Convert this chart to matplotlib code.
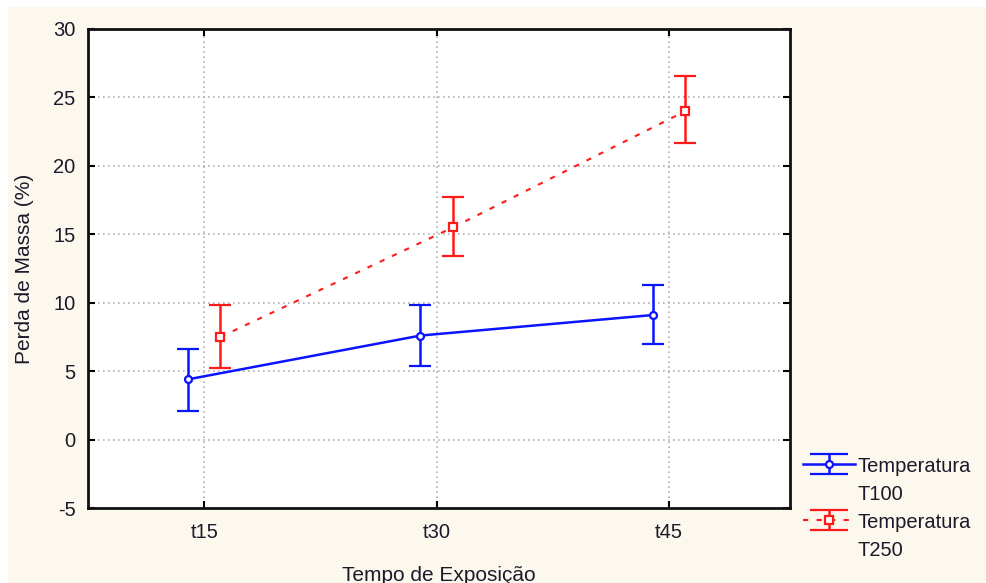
import matplotlib
matplotlib.use("Agg")
import matplotlib.pyplot as plt
import numpy as np
from matplotlib.patches import Rectangle

categories = ["t15", "t30", "t45"]
t100_mean = [4.4, 7.6, 9.1]
t100_upper = [6.6, 9.8, 11.3]
t100_lower = [2.1, 5.4, 7.0]
t250_mean = [7.5, 15.5, 24.0]
t250_upper = [9.8, 17.7, 26.6]
t250_lower = [5.2, 13.4, 21.7]
series_labels = [("Temperatura", "T100"), ("Temperatura", "T250")]
yticks = [-5, 0, 5, 10, 15, 20, 25, 30]

plt.rcParams['font.family'] = ['Liberation Sans', 'DejaVu Sans']
plt.rcParams['axes.unicode_minus'] = False

fs = 14.5
fsl = 15
txt = '#1a1a2a'
bg = '#fdf8ee'
blue = '#0a14ff'
red = '#ff1a1a'
fig = plt.figure(figsize=(9.86, 5.83), dpi=100, facecolor='white')
fig.patches.append(Rectangle((8/986, 0), 1, 1 - 7/583, transform=fig.transFigure,
                             facecolor=bg, edgecolor='none', zorder=-10))
ax = fig.add_axes([88/986, 1 - 508/583, (790 - 88)/986, (508 - 29)/583])
ax.set_facecolor('white')

x = np.arange(len(categories))
off = 0.07
m1 = np.array(t100_mean); m2 = np.array(t250_mean)
e1 = [m1 - np.array(t100_lower), np.array(t100_upper) - m1]
e2 = [m2 - np.array(t250_lower), np.array(t250_upper) - m2]

style1 = dict(color=blue, lw=1.8, ls='-', marker='o', ms=5, mfc='white', mec=blue,
              mew=1.6, capthick=1.8, elinewidth=1.8)
style2 = dict(color=red, lw=1.5, ls=(0, (2.5, 4)), marker='s', ms=6, mfc='white', mec=red,
              mew=1.6, capthick=1.8, elinewidth=1.8)

ax.errorbar(x - off, m1, yerr=e1, capsize=8, zorder=3, **style1)
ax.errorbar(x + off, m2, yerr=e2, capsize=8, zorder=3, **style2)

# legend proxies (no visible data) with wider caps
p1 = ax.errorbar([np.nan], [np.nan], yerr=[1], capsize=14, **style1)
p2 = ax.errorbar([np.nan], [np.nan], yerr=[1], capsize=14, **style2)
blank = plt.Line2D([], [], color='none')

ax.set_xlim(-0.5, 2.52)
ax.set_ylim(-5, 30)
ax.set_xticks(x)
ax.set_xticklabels(categories)
ax.set_yticks(yticks)
ax.grid(True, color='#b0b0b0', ls=(0, (1, 2)), lw=1.2)
ax.tick_params(direction='in', top=True, right=True, length=5, width=1.5,
               labelsize=fs, colors='black', labelcolor=txt)
ax.tick_params(axis='y', pad=9)
ax.tick_params(axis='x', pad=11)
for s in ax.spines.values():
    s.set_linewidth(2)
    s.set_color('#111111')

ax.set_ylabel("Perda de Massa (%)", fontsize=fsl, labelpad=14, color=txt)
ax.set_xlabel("Tempo de Exposição", fontsize=fsl, labelpad=17, color=txt)

handles = [p1, blank, p2, blank]
labels = [series_labels[0][0], series_labels[0][1], series_labels[1][0], series_labels[1][1]]
leg = fig.legend(handles, labels, loc='upper left',
                 bbox_to_anchor=(795/986, 1 - 448/583), frameon=False, fontsize=fs,
                 handlelength=2.6, handletextpad=0.08, labelspacing=0.4, borderaxespad=0,
                 handleheight=1.0)
for t in leg.get_texts():
    t.set_color(txt)

fig.savefig("out.png", dpi=100, facecolor=fig.get_facecolor())
